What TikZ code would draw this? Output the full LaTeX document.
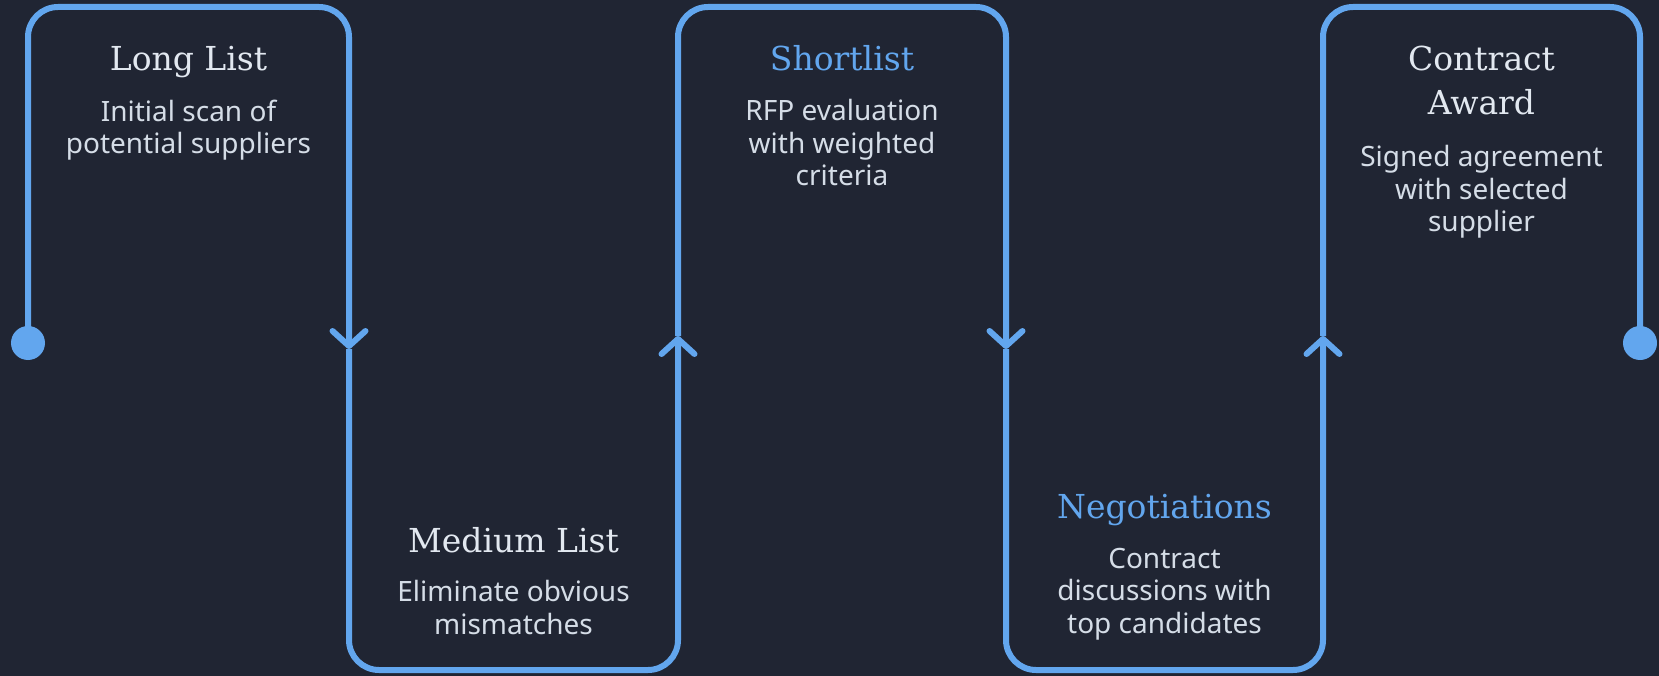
\documentclass[tikz,border=0pt]{standalone}
\usepackage{fontspec}
\setmainfont{Noto Sans}
\newfontfamily\slabfont{DejaVu Serif}
\usetikzlibrary{arrows.meta}
\definecolor{bgdark}{HTML}{202533}
\definecolor{flowblue}{HTML}{62A6EE}
\definecolor{titlegray}{HTML}{E2E8F0}
\definecolor{textgray}{HTML}{D5DDE7}
\tikzset{
	flow/.style={draw=flowblue,line width=6pt,rounded corners=30pt},
	chev/.tip={Straight Barb[length=15pt,width=33pt,round]},
	stagetitle/.style={anchor=base,inner sep=0pt,align=center,text=titlegray,
		font=\slabfont\fontsize{33}{44}\selectfont},
	stagetext/.style={anchor=base,inner sep=0pt,align=center,text=textgray,
		font=\fontsize{28}{32.5}\selectfont},
	enddot/.style={circle,fill=flowblue,inner sep=0pt,minimum size=34pt}
}
\begin{document}
\begin{tikzpicture}[x=1pt,y=-1pt]
	\fill[bgdark] (0,0) rectangle (1659,676);
	\coordinate (top) at (0,7);
	\coordinate (bot) at (0,670);
	\coordinate (p0) at (28,343);
	\coordinate (m1) at (349,349);
	\coordinate (m2) at (678,336);
	\coordinate (m3) at (1006,349);
	\coordinate (m4) at (1323,336);
	\coordinate (p5) at (1640,343);

	\draw[flow,-chev] (p0) -- (p0 |- top) -- (m1 |- top) -- (m1);
	\draw[flow,-chev] (m1) -- (m1 |- bot) -- (m2 |- bot) -- (m2);
	\draw[flow,-chev] (m2) -- (m2 |- top) -- (m3 |- top) -- (m3);
	\draw[flow,-chev] (m3) -- (m3 |- bot) -- (m4 |- bot) -- (m4);
	\draw[flow] (m4) -- (m4 |- top) -- (p5 |- top) -- (p5);
	\node[enddot] (start) at (p0) {};
	\node[enddot] (finish) at (p5) {};

	\node[stagetitle] (long) at (188.5,71) {Long List};
	\node[stagetext] (longtxt) at (188.5,154) {Initial scan of\\potential suppliers};
	\node[stagetitle] (medium) at (513.5,552) {Medium List};
	\node[stagetext] (mediumtxt) at (513.5,634) {Eliminate obvious\\mismatches};
	\node[stagetitle,text=flowblue] (short) at (842,71) {Shortlist};
	\node[stagetext] (shorttxt) at (842,186) {RFP evaluation\\with weighted\\criteria};
	\node[stagetitle,text=flowblue] (nego) at (1164.5,518) {Negotiations};
	\node[stagetext] (negotxt) at (1164.5,633) {Contract\\discussions with\\top candidates};
	\node[stagetitle] (award) at (1481.5,115) {Contract\\Award};
	\node[stagetext] (awardtxt) at (1481.5,232) {Signed agreement\\with selected\\supplier};
\end{tikzpicture}
\end{document}
